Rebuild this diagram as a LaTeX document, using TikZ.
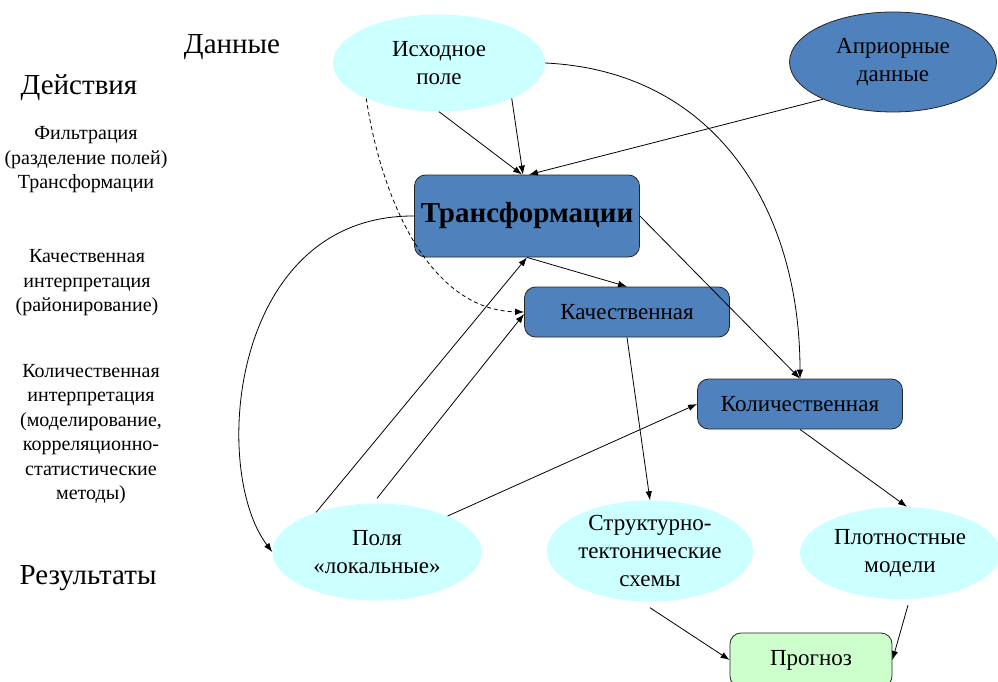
\documentclass[tikz,border=0pt]{standalone}
\usepackage{fontspec}
\setmainfont{LiberationSerif}[Extension=.ttf,UprightFont=*-Regular,BoldFont=*-Bold,ItalicFont=*-Italic,BoldItalicFont=*-BoldItalic]
\usetikzlibrary{arrows.meta,shapes.geometric}
\definecolor{lightcyan}{HTML}{CCFFFF}
\definecolor{steelblue}{HTML}{4F81BD}
\definecolor{palegreen}{HTML}{CCFFCC}
\tikzset{
ARROW/.style ={draw=black,line width=0.8pt,-{Latex[length=9pt,width=6.5pt]}},
DASHARROW/.style ={ARROW,dash pattern=on 4pt off 3pt},
CYANELL/.style={ellipse,fill=lightcyan,draw=none,inner sep=0pt,align=center,font=\fontsize{23}{28}\selectfont},
BLUEELL/.style={ellipse,fill=steelblue,draw=black!85,line width=0.8pt,inner sep=0pt,align=center,font=\fontsize{23}{28}\selectfont},
BOX/.style={rectangle,rounded corners=11pt,fill=#1,draw=black!85,line width=0.8pt,inner sep=0pt,align=center,font=\fontsize{23}{28}\selectfont},
BOX/.default = steelblue,
HEAD/.style={font=\fontsize{29}{34}\selectfont},
SIDE/.style={align=center,font=\fontsize{20}{24.5}\selectfont},
}

\begin{document}
\begin{tikzpicture} %scheme of interpretation
[x=1pt, y=-1pt]
	\useasboundingbox (0,0) rectangle (998,682);
	% left column
	\node[HEAD] (hdata) at (232,47) {Данные};
	\node[HEAD] (hact) at (79,88) {Действия};
	\node[HEAD] (hres) at (88,578) {Результаты};
	\node[SIDE] (sfilt) at (86,160) {Фильтрация\\(разделение полей)\\Трансформации};
	\node[SIDE] (squal) at (87,283) {Качественная\\интерпретация\\(районирование)};
	\node[SIDE] (squan) at (91,434) {Количественная\\интерпретация\\(моделирование,\\ корреляционно-\\статистические\\методы)};
	% data
	\node[CYANELL,minimum width=212pt,minimum height=97pt] (ish) at (439,63) {Исходное\\поле};
	\node[BLUEELL,minimum width=207pt,minimum height=100pt] (apr) at (893,62) {Априорные\\данные};
	% actions
	\node[BOX,minimum width=225pt,minimum height=82pt,font=\fontsize{29}{34}\selectfont\bfseries] (trans) at (527,216) {Трансформации};
	\node[BOX,minimum width=205pt,minimum height=50pt] (kac) at (627,312) {Качественная};
	\node[BOX,minimum width=205pt,minimum height=50pt] (kol) at (800,404) {Количественная};
	% results
	\node[CYANELL,minimum width=209pt,minimum height=97pt] (pol) at (377,552) {Поля\\«локальные»};
	\node[CYANELL,minimum width=206pt,minimum height=95pt] (str) at (650,551) {Структурно-\\тектонические\\схемы};
	\node[CYANELL,minimum width=200pt,minimum height=92pt] (plt) at (900,553) {Плотностные\\модели};
	\node[BOX=palegreen,minimum width=162pt,minimum height=54pt] (prog) at (811,660) {Прогноз};
	% connectors
	\path[ARROW] (ish.south) -- ([xshift=-5pt]trans.north);
	\path[ARROW] (ish.-26) -- ([xshift=-4pt]trans.north);
	\path[ARROW] (apr.-152) -- ([xshift=2pt]trans.north);
	\path[ARROW] (ish.east) .. controls +(170,8) and +(0,-170) .. (kol.north);
	\path[DASHARROW] (ish.-154) .. controls +(15,100) and +(-95,-2) .. (kac.west);
	\path[ARROW] (trans.south) -- (kac.north);
	\path[ARROW] (trans.east) -- (kol.north);
	\path[ARROW] (trans.west) .. controls (230,215) and (210,470) .. (pol.west);
	\path[ARROW] (pol.147) -- (trans.south);
	\path[ARROW] ([yshift=5pt]pol.north) -- ([yshift=-2pt]kac.west);
	\path[ARROW] (pol.27) -- (kol.west);
	\path[ARROW] (kac.south) -- (str.north);
	\path[ARROW] (kol.south) -- ([xshift=7pt]plt.north);
	\path[ARROW] ([yshift=-6pt]str.south) -- (prog.west);
	\path[ARROW] ([xshift=8pt,yshift=-6pt]plt.south) -- (prog.east);
\end{tikzpicture}
\end{document}
